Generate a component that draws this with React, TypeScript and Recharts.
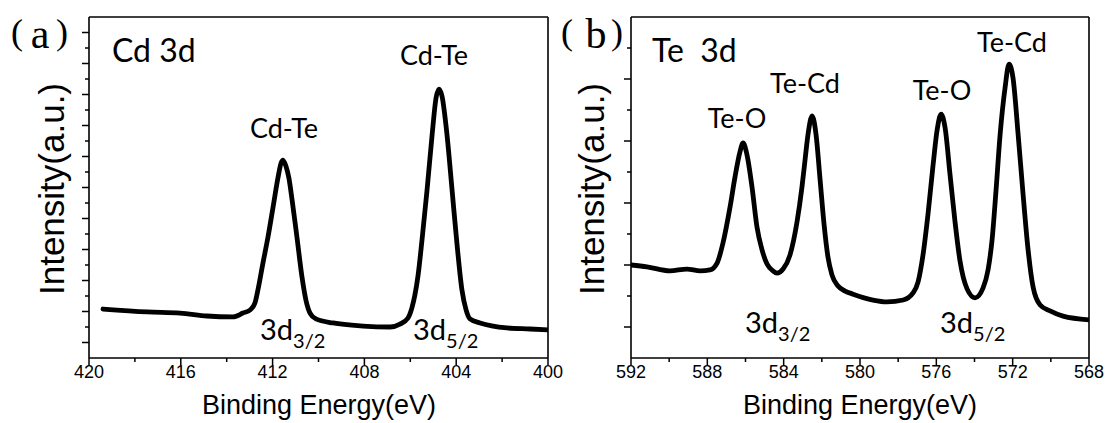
import React from "react";
import { LineChart, Line, XAxis, YAxis } from "recharts";

// Cd 3d spectrum (binding energy in eV, intensity in arbitrary units)
const cdEnergy = [419.39, 417.47, 416.03, 414.86, 413.73, 413.29, 412.98, 412.77, 412.64, 412.42, 412.2, 411.98, 411.76, 411.63, 411.55, 411.42, 411.29, 411.15, 410.94, 410.72, 410.54, 410.37, 410.11, 409.37, 408.06, 406.88, 406.45, 406.1, 405.93, 405.8, 405.66, 405.49, 405.27, 405.05, 404.88, 404.75, 404.62, 404.4, 404.18, 403.97, 403.75, 403.57, 403.4, 402.96, 401.79, 400.78, 400.0];
const cdIntensity = [3.16, 2.97, 2.9, 2.71, 2.65, 2.9, 3.1, 3.55, 4.39, 6.13, 7.81, 9.74, 11.68, 12.58, 12.77, 12.39, 11.61, 10.19, 7.81, 5.23, 3.68, 2.9, 2.52, 2.26, 2.06, 2.0, 2.19, 2.58, 3.23, 4.06, 5.35, 7.61, 10.84, 14.39, 16.77, 17.35, 16.9, 14.39, 10.84, 7.42, 4.39, 3.1, 2.52, 2.26, 1.94, 1.87, 1.81];

// Te 3d spectrum
const teEnergy = [592.0, 591.16, 589.96, 589.07, 588.38, 587.86, 587.49, 587.18, 586.81, 586.55, 586.29, 586.13, 585.92, 585.66, 585.4, 585.13, 584.87, 584.56, 584.35, 584.03, 583.67, 583.3, 583.04, 582.88, 582.72, 582.51, 582.3, 582.09, 581.88, 581.68, 581.47, 581.15, 580.78, 580.36, 579.32, 578.58, 577.74, 577.22, 576.96, 576.7, 576.43, 576.17, 575.96, 575.75, 575.54, 575.28, 575.02, 574.76, 574.39, 573.97, 573.55, 573.29, 573.08, 572.87, 572.66, 572.4, 572.19, 571.98, 571.72, 571.46, 571.19, 570.93, 570.56, 570.04, 569.36, 568.0];
const teIntensity = [3.0, 2.94, 2.81, 2.87, 2.81, 2.84, 3.06, 3.71, 4.87, 5.84, 6.65, 6.94, 6.55, 5.52, 4.23, 3.48, 3.03, 2.81, 2.74, 2.87, 3.32, 4.39, 5.52, 6.39, 7.23, 7.81, 7.19, 5.74, 4.29, 3.26, 2.68, 2.32, 2.16, 2.06, 1.87, 1.81, 1.87, 2.1, 2.45, 3.32, 4.68, 6.23, 7.35, 7.87, 7.42, 5.9, 4.39, 3.13, 2.23, 1.94, 2.26, 2.84, 3.81, 5.42, 7.19, 8.71, 9.48, 9.03, 7.26, 5.32, 3.48, 2.29, 1.71, 1.52, 1.35, 1.23];

// axis ticks
const cdTicksX = [420, 418, 416, 414, 412, 410, 408, 406, 404, 402, 400];
const cdLabelsX = [420, 416, 412, 408, 404, 400];
const cdTicksY = [1, 2, 3, 4, 5, 6, 7, 8, 9, 10, 11, 12, 13, 14, 15, 16, 17, 18, 19, 20, 21];
const cdMajorY = [1, 3, 5, 7, 9, 11, 13, 15, 17, 19, 21];

const teTicksX = [592, 590, 588, 586, 584, 582, 580, 578, 576, 574, 572, 570, 568];
const teLabelsX = [592, 588, 584, 580, 576, 572, 568];
const teTicksY = [1, 2, 3, 4, 5, 6, 7, 8, 9, 10];
const teMajorY = [1, 3, 5, 7, 9];

const cdData = cdEnergy.map((e, i) => ({ e, v: cdIntensity[i] }));
const teData = teEnergy.map((e, i) => ({ e, v: teIntensity[i] }));

const ARIAL = "'Liberation Sans', Arial, sans-serif";
const CALIBRI = "Lato, 'Open Sans', sans-serif";
const SERIF = "'Liberation Serif', 'Times New Roman', serif";
const AXIS = { stroke: "#000", strokeWidth: 1.6 };

function makeXTick(labels: number[]) {
  return (props: any) => {
    const { x, y, payload } = props;
    const major = labels.includes(payload.value);
    return (
      <g>
        <line x1={x} y1={y} x2={x} y2={y + (major ? 7 : 4)} stroke="#000" strokeWidth={1.5} />
        {major && (
          <text x={x} y={y + 20} textAnchor="middle" fontSize={18} fontFamily={ARIAL} fill="#000">
            {payload.value}
          </text>
        )}
      </g>
    );
  };
}

function makeYTick(major: number[]) {
  return (props: any) => {
    const { x, y, payload } = props;
    const len = major.includes(payload.value) ? 7 : 4;
    return <line x1={x} y1={y} x2={x - len} y2={y} stroke="#000" strokeWidth={1.5} />;
  };
}

function PanelLetter({ letter, xs }: { letter: string; xs: number[] }) {
  return (
    <text fontFamily={SERIF} fill="#000" textAnchor="middle">
      <tspan x={xs[0]} y={44} fontSize={36}>(</tspan>
      <tspan x={xs[1]} y={48} fontSize={42}>{letter}</tspan>
      <tspan x={xs[2]} y={44} fontSize={36}>)</tspan>
    </text>
  );
}

function Sub({ x, y, main, sub }: { x: number; y: number; main: string; sub: string }) {
  return (
    <text x={x} y={y} fontSize={29} fontFamily={CALIBRI} fill="#000">
      {main}
      <tspan fontSize={20} dy={8}>{sub}</tspan>
    </text>
  );
}

export default function App() {
  return (
    <div style={{ position: "fixed", left: 0, top: 0, width: 1105, height: 423, background: "#fff" }}>
      <div style={{ position: "absolute", left: 0, top: 0 }}>
        <LineChart width={572} height={423} data={cdData} margin={{ top: 16, right: 23, bottom: 64, left: 88 }}>
          <XAxis type="number" dataKey="e" domain={[400, 420]} reversed allowDataOverflow ticks={cdTicksX} interval={0}
            tickSize={0} tickMargin={0} height={1} axisLine={AXIS} tickLine={false} tick={makeXTick(cdLabelsX)} />
          <XAxis xAxisId="top" orientation="top" type="number" domain={[400, 420]} reversed height={1}
            axisLine={AXIS} tick={false} tickLine={false} />
          <YAxis type="number" domain={[0, 22]} allowDataOverflow ticks={cdTicksY} interval={0}
            tickSize={0} tickMargin={0} width={1} axisLine={AXIS} tickLine={false} tick={makeYTick(cdMajorY)} />
          <YAxis yAxisId="right" orientation="right" type="number" domain={[0, 22]} width={1}
            axisLine={AXIS} tick={false} tickLine={false} />
          <Line dataKey="v" type="monotone" stroke="#000" strokeWidth={4.8} dot={false} isAnimationActive={false}
            strokeLinejoin="round" strokeLinecap="round" />
          <text x={64} y={189} transform="rotate(-90 64 189)" textAnchor="middle" fontSize={35} fontFamily={ARIAL} fill="#000">
            Intensity(a.u.)
          </text>
          <text x={319} y={414} textAnchor="middle" fontSize={27} fontFamily={ARIAL} fill="#000">
            Binding Energy(eV)
          </text>
          <PanelLetter letter="a" xs={[17, 40, 62]} />
          <text x={112} y={62} fontSize={32} fontFamily={CALIBRI} fill="#000">Cd 3d</text>
          <text x={284} y={138} textAnchor="middle" fontSize={27} fontFamily={CALIBRI} fill="#000">Cd-Te</text>
          <text x={434} y={65} textAnchor="middle" fontSize={27} fontFamily={CALIBRI} fill="#000">Cd-Te</text>
          <Sub x={260} y={340} main="3d" sub="3/2" />
          <Sub x={413} y={340} main="3d" sub="5/2" />
        </LineChart>
      </div>
      <div style={{ position: "absolute", left: 545, top: 0 }}>
        <LineChart width={560} height={423} data={teData} margin={{ top: 16, right: 15, bottom: 64, left: 85 }}>
          <XAxis type="number" dataKey="e" domain={[568, 592]} reversed allowDataOverflow ticks={teTicksX} interval={0}
            tickSize={0} tickMargin={0} height={1} axisLine={AXIS} tickLine={false} tick={makeXTick(teLabelsX)} />
          <XAxis xAxisId="top" orientation="top" type="number" domain={[568, 592]} reversed height={1}
            axisLine={AXIS} tick={false} tickLine={false} />
          <YAxis type="number" domain={[0, 11]} allowDataOverflow ticks={teTicksY} interval={0}
            tickSize={0} tickMargin={0} width={1} axisLine={AXIS} tickLine={false} tick={makeYTick(teMajorY)} />
          <YAxis yAxisId="right" orientation="right" type="number" domain={[0, 11]} width={1}
            axisLine={AXIS} tick={false} tickLine={false} />
          <Line dataKey="v" type="monotone" stroke="#000" strokeWidth={4.8} dot={false} isAnimationActive={false}
            strokeLinejoin="round" strokeLinecap="round" />
          <text x={59} y={189} transform="rotate(-90 59 189)" textAnchor="middle" fontSize={35} fontFamily={ARIAL} fill="#000">
            Intensity(a.u.)
          </text>
          <text x={315} y={414} textAnchor="middle" fontSize={27} fontFamily={ARIAL} fill="#000">
            Binding Energy(eV)
          </text>
          <PanelLetter letter="b" xs={[22, 51, 72]} />
          <text x={107} y={62} fontSize={32} fontFamily={CALIBRI} fill="#000">{"Te\u00a0 3d"}</text>
          <text x={192} y={128} textAnchor="middle" fontSize={27} fontFamily={CALIBRI} fill="#000">Te-O</text>
          <text x={260} y={93} textAnchor="middle" fontSize={27} fontFamily={CALIBRI} fill="#000">Te-Cd</text>
          <text x={397} y={100} textAnchor="middle" fontSize={27} fontFamily={CALIBRI} fill="#000">Te-O</text>
          <text x={467} y={52} textAnchor="middle" fontSize={27} fontFamily={CALIBRI} fill="#000">Te-Cd</text>
          <Sub x={200} y={333} main="3d" sub="3/2" />
          <Sub x={395} y={333} main="3d" sub="5/2" />
        </LineChart>
      </div>
    </div>
  );
}
